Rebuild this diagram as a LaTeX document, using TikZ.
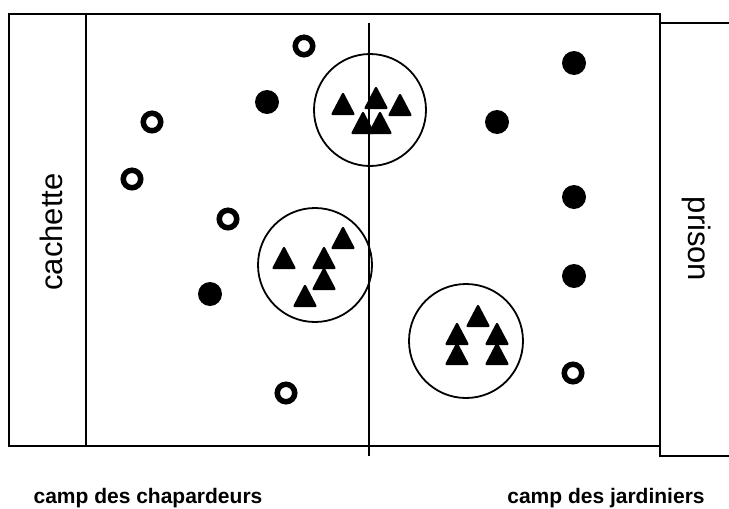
\documentclass[tikz,border=0pt]{standalone}
\usepackage{fontspec}
\setmainfont{Liberation Sans}
\usepackage{tikz}
\usetikzlibrary{positioning}
\tikzset{pion/.pic={\filldraw[line width=2.2pt, line join=round] (0,-10) -- (10.5,10) -- (-10.5,10) -- cycle;}}

\begin{document}
\begin{tikzpicture}
    [x=1pt, y=-1pt, line width=1.8pt,
     ring/.style={draw, circle, line width=5.5pt, minimum size=17.5pt, inner sep=0pt},
     dot/.style={fill, circle, minimum size=24pt, inner sep=0pt},
     groupe/.style={draw, circle, minimum size=112pt, inner sep=0pt},
     side/.style={font=\fontsize{31}{31}\selectfont, anchor=base},
     camp/.style={font=\fontsize{21}{21}\selectfont\bfseries, anchor=base}]
    \useasboundingbox (0,0) rectangle (729,509);

    % terrain
    \draw (9,14) rectangle (86,446);
    \draw (86,14) rectangle (660,446);
    \draw (729,23) -- (660,23) -- (660,456) -- (729,456);
    \draw (369,23) -- (369,456);

    \node[side, rotate=90] (cachette) at (62,232) {cachette};
    \node[side, rotate=-90] (prison) at (688,239) {prison};

    % joueurs
    \foreach \x/\y [count=\i] in {304/46, 152/122, 132/179, 228/219, 286/393, 573/373}
      \node[ring] (r\i) at (\x,\y) {};
    \foreach \x/\y [count=\i] in {267/102, 574/63, 497/122, 574/197, 574/276, 210/294}
      \node[dot] (d\i) at (\x,\y) {};

    % groupes
    \node[groupe] (g1) at (370,110) {};
    \node[groupe, minimum size=114pt] (g2) at (315,265) {};
    \node[groupe, minimum size=114pt] (g3) at (466,341) {};
    \foreach \x/\y in {343/104, 376/98, 400/105, 363/123, 380/123,
                       284/258, 343/238, 324/258, 324/279, 305/296,
                       478/316, 457/334, 457/354, 497/334, 497/354}
      \pic at (\x,\y) {pion};

    \node[camp] (chapardeurs) at (148,503) {camp des chapardeurs};
    \node[camp] (jardiniers) at (606,503) {camp des jardiniers};
\end{tikzpicture}
\end{document}
